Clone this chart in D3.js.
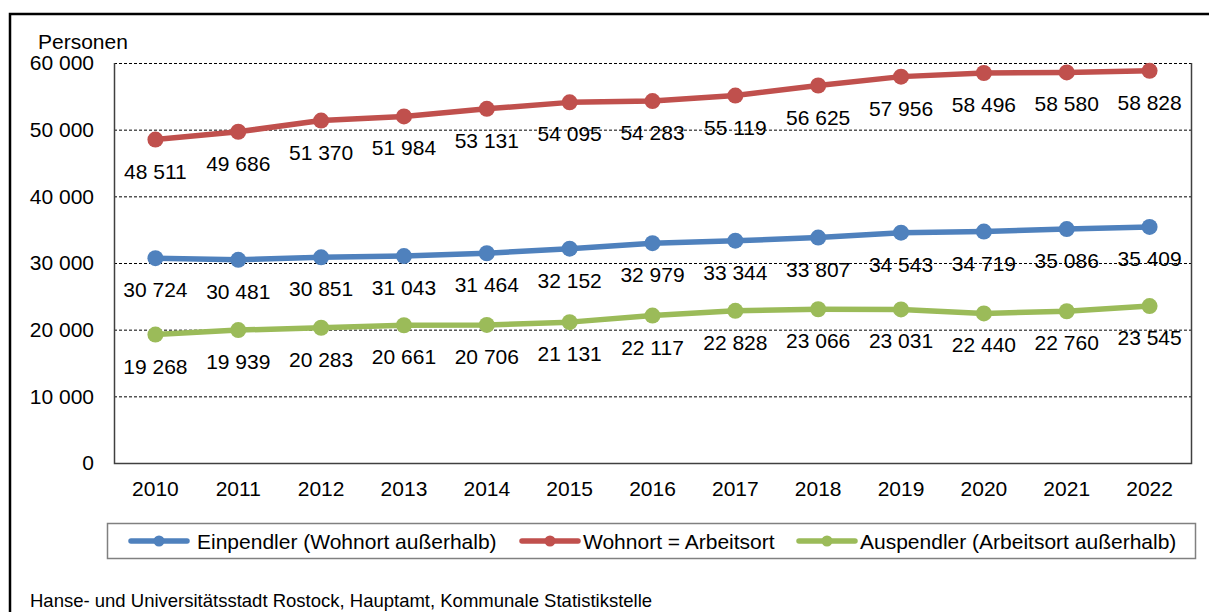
<!DOCTYPE html>
<html>
<head>
<meta charset="utf-8">
<script src="https://cdn.jsdelivr.net/npm/d3@7"></script>
<style>
  html, body { margin: 0; padding: 0; background: #fff; }
  svg { display: block; font-family: "Liberation Sans", Arial, sans-serif; }
</style>
</head>
<body>
<svg id="chart" width="1209" height="612"></svg>
<script>
// Pendlerzahlen Rostock 2010–2022
const years = [2010, 2011, 2012, 2013, 2014, 2015, 2016, 2017, 2018, 2019, 2020, 2021, 2022];
const einpendler = [30724, 30481, 30851, 31043, 31464, 32152, 32979, 33344, 33807, 34543, 34719, 35086, 35409];
const wohnortArbeitsort = [48511, 49686, 51370, 51984, 53131, 54095, 54283, 55119, 56625, 57956, 58496, 58580, 58828];
const auspendler = [19268, 19939, 20283, 20661, 20706, 21131, 22117, 22828, 23066, 23031, 22440, 22760, 23545];
const yTicks = [0, 10000, 20000, 30000, 40000, 50000, 60000];
const seriesNames = ["Einpendler (Wohnort außerhalb)", "Wohnort = Arbeitsort", "Auspendler (Arbeitsort außerhalb)"];
const seriesColors = ["#4F81BD", "#C0504D", "#9BBB59"];
const yTitle = "Personen";
const sourceText = "Hanse- und Universitätsstadt Rostock, Hauptamt, Kommunale Statistikstelle";

const series = [einpendler, wohnortArbeitsort, auspendler].map((values, i) => ({
  name: seriesNames[i], color: seriesColors[i], values
}));

const svg = d3.select("#chart");
const plot = { left: 114, right: 1191, top: 63, bottom: 463 };
const FS = 21;

// number format with space as thousands separator
const fmt = v => d3.format(",")(v).replace(/,/g, " ");

const x = d3.scaleBand().domain(years).range([plot.left, plot.right]);
const cx = d => x(d) + x.bandwidth() / 2;
const y = d3.scaleLinear().domain([0, 60000]).range([plot.bottom, plot.top]);

// outer frame
svg.append("rect")
  .attr("x", 10).attr("y", 14)
  .attr("width", 1230).attr("height", 640)
  .attr("fill", "none").attr("stroke", "#000").attr("stroke-width", 2.5);

// horizontal gridlines
svg.append("g").selectAll("line")
  .data(yTicks.filter(t => t > 0))
  .join("line")
  .attr("x1", plot.left).attr("x2", plot.right)
  .attr("y1", d => y(d) + 0.5).attr("y2", d => y(d) + 0.5)
  .attr("stroke", "#000").attr("stroke-width", 1)
  .attr("stroke-dasharray", "3,2");

// plot area border (left, bottom, right)
svg.append("path")
  .attr("d", `M${plot.left + 0.5},${plot.top}V${plot.bottom + 0.5}H${plot.right + 0.5}V${plot.top}`)
  .attr("fill", "none").attr("stroke", "#404040").attr("stroke-width", 1.5);

// y axis labels
const yAxis = svg.append("g")
  .attr("transform", `translate(${plot.left},0)`)
  .call(d3.axisLeft(y).tickValues(yTicks).tickSize(0).tickPadding(20).tickFormat(fmt));
yAxis.select(".domain").remove();
yAxis.selectAll("text")
  .attr("font-size", FS).attr("fill", "#000")
  .attr("font-family", "Liberation Sans, Arial, sans-serif");

// x axis labels
const xAxis = svg.append("g")
  .attr("transform", `translate(0,${plot.bottom})`)
  .call(d3.axisBottom(x).tickSize(0).tickPadding(18));
xAxis.select(".domain").remove();
xAxis.selectAll("text")
  .attr("font-size", FS).attr("fill", "#000")
  .attr("font-family", "Liberation Sans, Arial, sans-serif");

// axis title
svg.append("text")
  .attr("x", 38).attr("y", 49)
  .attr("font-size", FS).attr("fill", "#000")
  .text(yTitle);

// series lines and markers
const line = d3.line().x((d, i) => cx(years[i])).y(d => y(d));
const sg = svg.append("g").selectAll("g").data(series).join("g");
sg.append("path")
  .attr("d", d => line(d.values))
  .attr("fill", "none")
  .attr("stroke", d => d.color)
  .attr("stroke-width", 5.5)
  .attr("stroke-linejoin", "round");
sg.selectAll("circle")
  .data(d => d.values.map((v, i) => ({ v, year: years[i], color: d.color })))
  .join("circle")
  .attr("cx", d => cx(d.year)).attr("cy", d => y(d.v))
  .attr("r", 8).attr("fill", d => d.color);

// value labels below points
sg.selectAll("text.val")
  .data(d => d.values.map((v, i) => ({ v, year: years[i] })))
  .join("text")
  .attr("class", "val")
  .attr("x", d => cx(d.year)).attr("y", d => y(d.v) + 39)
  .attr("text-anchor", "middle")
  .attr("font-size", FS).attr("fill", "#000")
  .text(d => fmt(d.v));

// legend
const legend = svg.append("g");
legend.append("rect")
  .attr("x", 107.5).attr("y", 523.5)
  .attr("width", 1088).attr("height", 35)
  .attr("fill", "#fff").attr("stroke", "#808080").attr("stroke-width", 1.5);
const legendX = [131, 522, 799];
const li = legend.selectAll("g.item").data(series).join("g")
  .attr("class", "item")
  .attr("transform", (d, i) => `translate(${legendX[i]},541)`);
li.append("line")
  .attr("x1", 0).attr("x2", 56).attr("y1", 0).attr("y2", 0)
  .attr("stroke", d => d.color).attr("stroke-width", 5.5).attr("stroke-linecap", "round");
li.append("circle").attr("cx", 28).attr("cy", 0).attr("r", 5.5).attr("fill", d => d.color);
li.append("text")
  .attr("x", (d, i) => i === 0 ? 66 : 61).attr("y", 7.5)
  .attr("font-size", FS).attr("fill", "#000")
  .text(d => d.name);

// source note
svg.append("text")
  .attr("x", 30).attr("y", 607)
  .attr("font-size", 18.5).attr("fill", "#000")
  .text(sourceText);
</script>
</body>
</html>
